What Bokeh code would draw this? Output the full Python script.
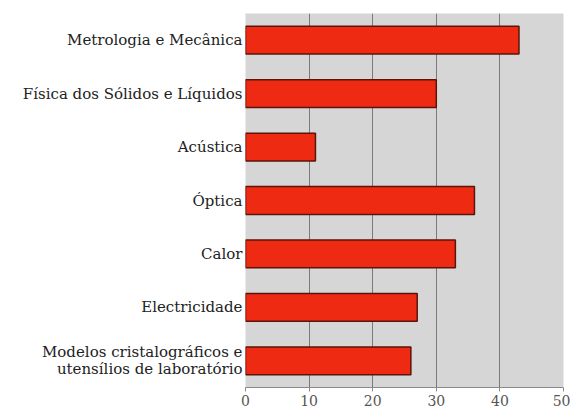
from bokeh.plotting import figure
from bokeh.models import FactorRange, Range1d, FixedTicker, ColumnDataSource
from bokeh.embed import file_html
from bokeh.resources import INLINE

categories = [
    "Metrologia e Mecânica",
    "Física dos Sólidos e Líquidos",
    "Acústica",
    "Óptica",
    "Calor",
    "Electricidade",
    "Modelos cristalográficos e\nutensílios de laboratório",
]
values = [43, 30, 11, 36, 33, 27, 26]
x_ticks = [0, 10, 20, 30, 40, 50]

src = ColumnDataSource(dict(cat=categories, val=values))

p = figure(
    width=570, height=408,
    y_range=FactorRange(factors=list(reversed(categories))),
    x_range=Range1d(0, 50),
    output_backend="svg", toolbar_location=None,
    min_border_left=245, min_border_right=7, min_border_top=13, min_border_bottom=21,
)
p.hbar(y="cat", right="val", left=0, height=0.52, source=src,
       fill_color="#ef2a12", line_color="#5a140a", line_width=1.5)

p.background_fill_color = "#d6d6d6"
p.border_fill_color = "white"
p.outline_line_color = None

p.ygrid.grid_line_color = None
p.xgrid.grid_line_color = "#7a7a7a"
p.xgrid.grid_line_width = 1
p.xgrid.ticker = FixedTicker(ticks=x_ticks)

p.xaxis.ticker = FixedTicker(ticks=x_ticks)
p.xaxis.axis_line_color = "#8a8a8a"
p.xaxis.major_tick_line_color = "#8a8a8a"
p.xaxis.major_tick_out = 4
p.xaxis.major_tick_in = 0
p.xaxis.minor_tick_line_color = None
p.xaxis.major_label_standoff = 3
p.xaxis.major_label_text_font = "DejaVu Serif"
p.xaxis.major_label_text_font_size = "14px"
p.xaxis.major_label_text_color = "#555555"

p.yaxis.axis_line_color = None
p.yaxis.major_tick_line_color = None
p.yaxis.minor_tick_line_color = None
p.yaxis.major_tick_out = 0
p.yaxis.major_label_standoff = 3
p.yaxis.major_label_text_font = "DejaVu Serif"
p.yaxis.major_label_text_font_size = "15px"
p.yaxis.major_label_text_line_height = 0.95
p.yaxis.major_label_text_color = "#222222"

open("out.html", "w").write(file_html(p, INLINE))
